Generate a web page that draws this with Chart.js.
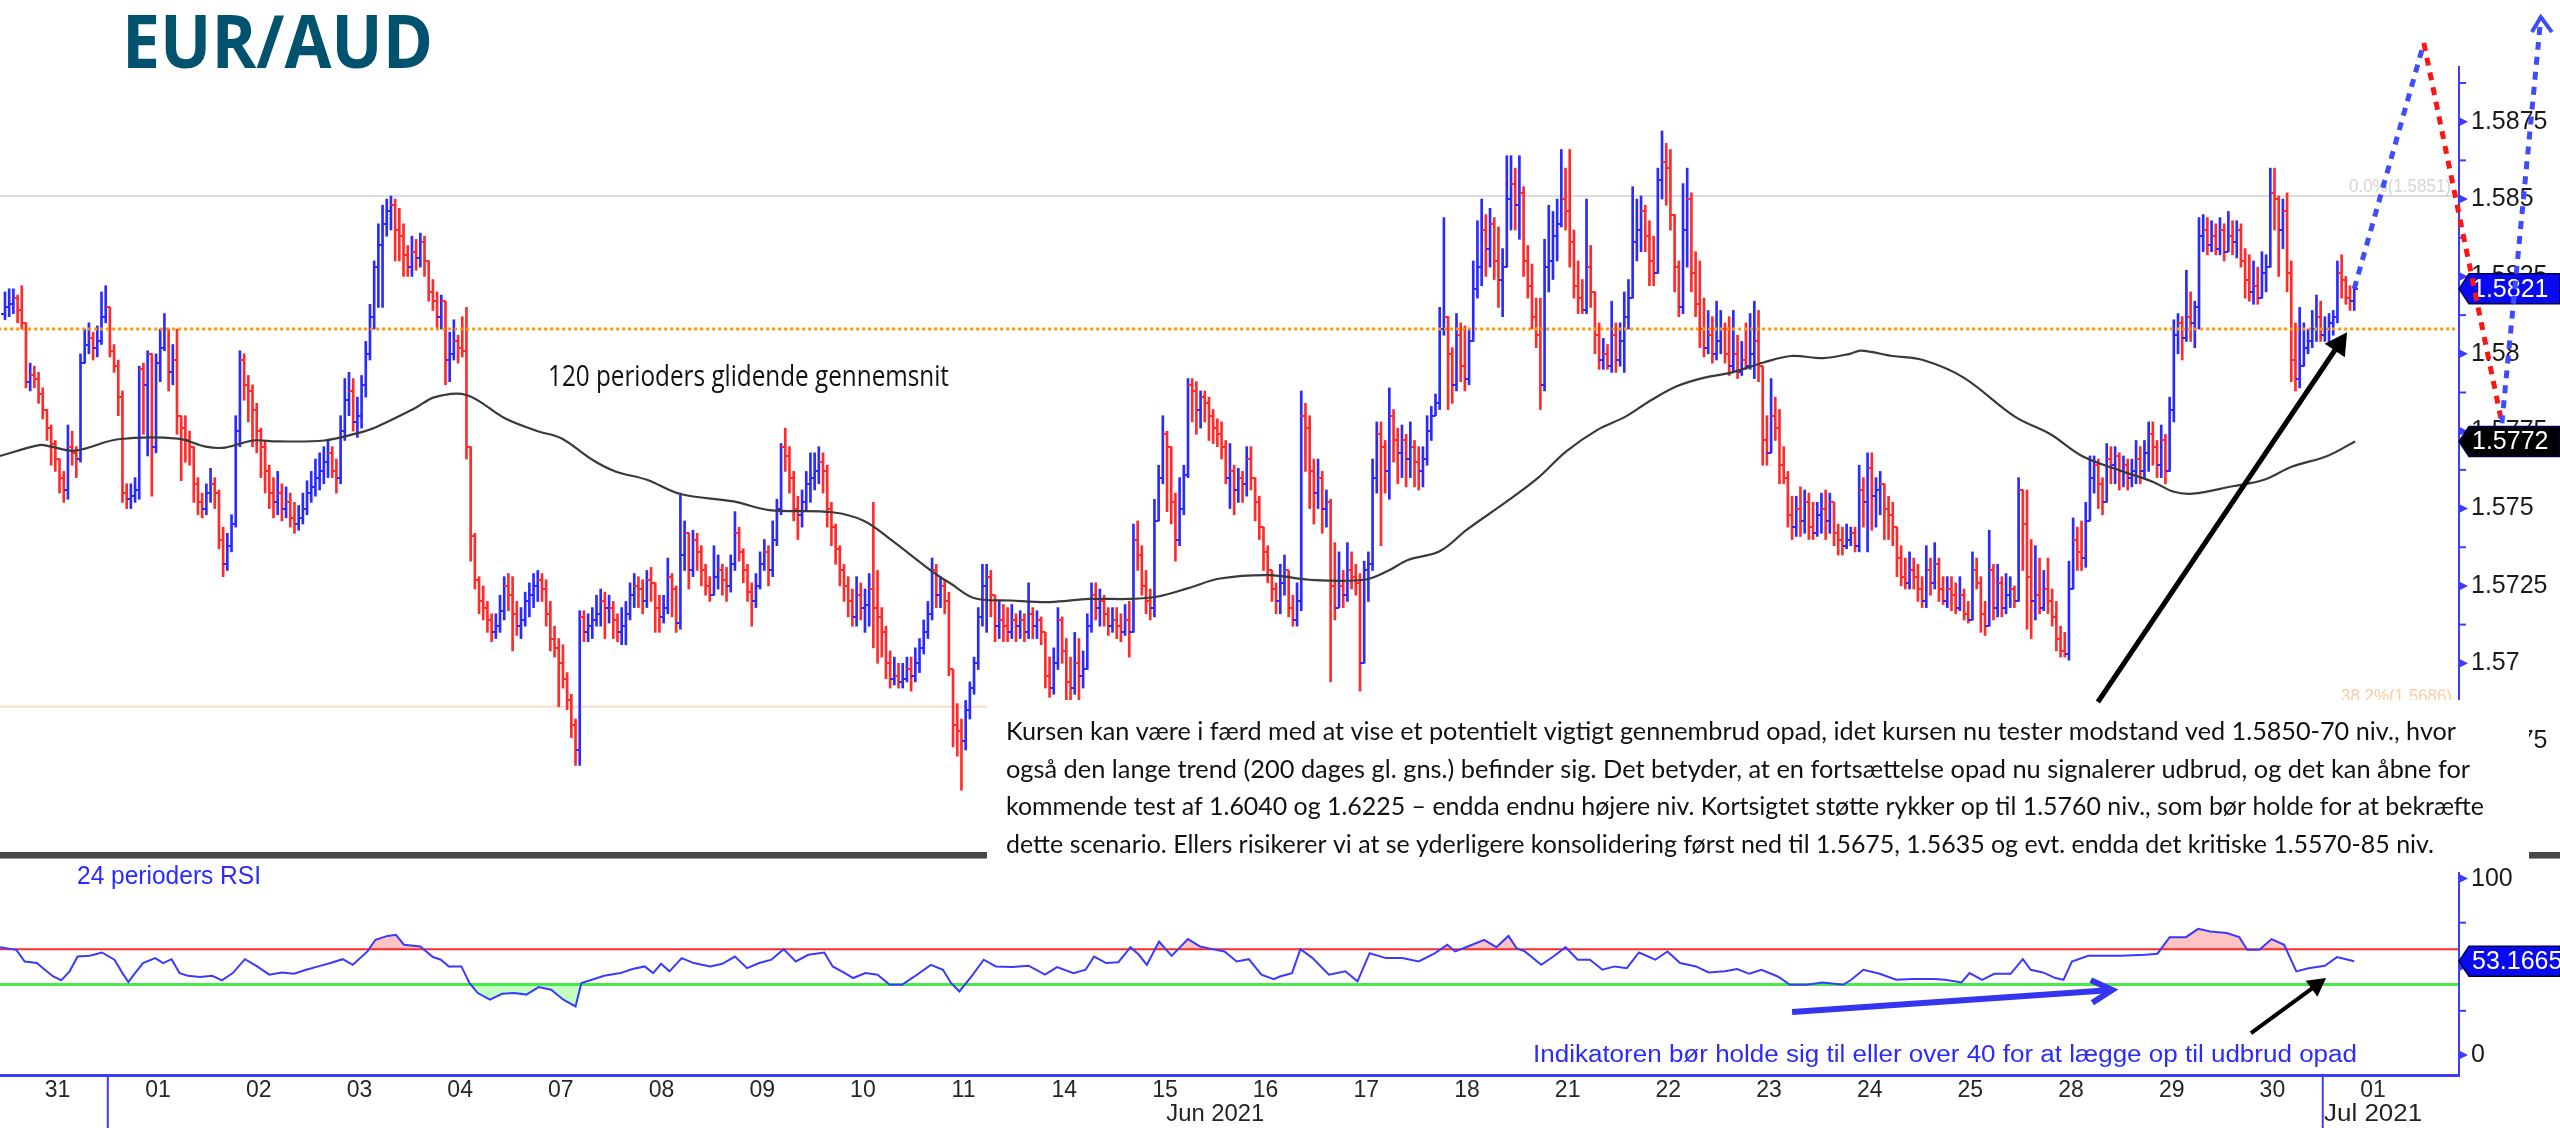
<!DOCTYPE html>
<html>
<head>
<meta charset="utf-8">
<title>EUR/AUD</title>
<script src="https://cdn.jsdelivr.net/npm/chart.js@4.4.1/dist/chart.umd.min.js"></script>
<style>
  html, body { margin: 0; padding: 0; background: #fff; }
  #wrap { position: relative; width: 2560px; height: 1128px; }
  canvas { display: block; }
</style>
</head>
<body>
<div id="wrap"><canvas id="chart" width="2560" height="1128"></canvas></div>
<script>
// EUR/AUD hourly bars, 31 May - 1 Jul 2021.
// Prices are kept in pips above BASE, time in hours counted from 31 May 00:00
// (weekends skipped, 24 bars per trading day).
const BASE = 1.5700;
const PIP = 0.0001;
const FIRST_HOUR = -1;

const opens = [
  113,
  115,116,118,114,110,91,93,92,87,82,76,71,66,60,56,70,68,66,97,103,105,102,104,112,       // 31 May
  115,101,96,86,55,53,54,56,95,90,100,70,97,102,108,94,98,80,76,72,70,58,52,50,            // 01 Jun
  55,58,55,40,32,38,45,75,98,90,88,82,75,70,62,55,52,55,50,52,47,45,47,50,                 // 02
  55,57,60,62,65,68,62,60,75,85,88,78,80,90,100,112,128,135,142,146,148,140,138,132,       // 03
  128,133,131,136,130,120,117,112,117,98,100,104,102,101,70,41,27,20,18,14,10,12,17,25,    // 04
  22,16,12,14,20,22,25,27,24,16,8,5,0,-5,-12,-20,-28,15,10,12,14,16,20,18,                 // 07
  18,14,10,12,16,22,25,24,20,27,26,18,15,18,28,24,13,35,42,30,40,36,30,25,                 // 08
  22,28,30,27,25,32,42,36,30,23,20,25,32,36,30,40,50,70,67,60,50,48,52,58,                 // 09
  60,62,65,62,50,44,37,30,25,20,15,22,18,19,24,18,15,10,0,-5,-4,-6,-5,-2,                  // 10
  -4,0,5,10,16,30,22,25,20,-2,-20,-22,-25,-15,-8,0,15,25,28,22,12,14,12,10,                // 11
  14,12,14,10,16,12,14,10,-4,-8,0,14,4,-6,-8,0,-4,-2,12,22,18,20,16,12,                    // 14
  14,12,10,14,10,40,35,25,20,18,46,60,74,70,52,40,50,61,90,88,82,86,84,80,                 // 15
  76,74,70,60,62,56,60,58,66,60,52,44,36,30,24,20,26,30,18,14,20,80,76,62,                 // 16
  55,60,50,52,25,18,25,22,30,28,26,0,30,32,60,74,70,62,80,72,68,72,66,70,                  // 17
  65,62,66,75,80,84,108,112,100,90,106,96,92,104,121,128,140,134,142,130,124,128,150,155,  // 18
  148,152,130,122,112,106,90,128,130,138,142,150,146,136,122,118,114,128,120,106,98,100,96,106, // 21
  98,104,112,118,136,140,146,138,130,126,156,162,160,145,128,115,140,150,126,116,108,102,106,100, // 22
  104,108,100,96,100,94,98,96,100,104,96,72,68,80,76,64,60,48,44,50,46,52,44,42,           // 23
  48,50,46,52,42,40,38,40,42,38,56,52,63,54,56,58,50,48,44,34,28,26,30,28,                 // 24
  24,20,30,26,32,24,20,24,22,18,22,16,14,30,26,16,12,30,18,26,18,22,24,20,                 // 25
  56,45,28,20,22,18,24,20,15,8,4,3,24,40,36,34,46,60,64,58,52,66,64,67,                    // 28
  62,64,60,62,66,62,68,74,70,64,72,62,82,106,110,105,112,110,115,138,140,135,138,134,      // 29
  140,133,138,136,140,130,124,120,122,118,126,128,152,150,140,146,126,98,92,96,102,104,108,112, // 30
  106,108,110,112,126,124,118,117                                                          // 01 Jul
];
const highs = [
  120,
  121,121,119,122,110,97,96,94,89,82,77,72,66,62,77,75,70,100,108,110,107,109,120,122,
  115,103,98,88,58,58,60,96,97,101,100,100,108,113,108,103,108,80,80,75,70,60,55,58,
  63,60,56,44,42,48,80,101,100,93,90,84,76,72,64,60,62,58,57,55,52,51,55,59,
  62,66,68,70,72,70,66,80,92,94,92,86,93,104,116,130,142,148,150,151,150,147,142,135,
  138,137,139,138,130,124,120,119,117,107,111,106,112,115,70,42,28,25,20,16,16,22,28,29,
  28,20,18,23,26,29,30,29,27,20,12,8,6,-3,-10,-18,17,17,16,18,22,24,23,22,
  20,16,18,20,26,29,28,27,30,31,26,22,22,34,29,25,55,46,42,43,42,38,32,28,
  38,35,32,31,35,49,44,37,32,26,29,36,40,38,46,53,71,76,70,62,54,56,62,68,
  68,70,68,64,52,45,38,32,28,24,28,26,24,29,52,30,18,12,4,2,0,0,2,2,
  5,8,14,20,34,32,28,27,23,-2,-13,-18,-12,-6,2,18,32,32,30,21,20,19,18,19,
  16,17,16,26,18,17,15,10,2,5,18,15,8,2,10,8,4,16,26,26,24,22,18,18,
  18,16,19,20,45,46,38,30,24,53,64,80,75,60,55,60,64,92,92,91,88,88,86,82,
  79,78,72,71,64,63,62,70,70,58,54,43,38,28,26,32,35,30,22,26,88,84,80,66,
  66,62,56,53,39,36,30,39,36,32,29,33,36,66,78,78,72,89,82,76,77,74,78,72,
  70,70,80,83,87,115,144,112,102,113,110,109,108,130,143,150,145,147,144,141,134,164,164,160,
  164,154,135,129,118,118,137,148,146,150,166,160,166,140,130,124,150,135,120,110,105,103,117,110,
  110,120,124,154,150,151,148,143,138,160,172,168,166,140,130,155,160,152,133,130,118,114,112,117,
  114,110,112,114,106,104,110,113,117,114,94,80,92,86,82,70,62,54,54,57,56,55,52,52,
  55,56,55,52,45,44,45,44,44,64,60,68,68,60,62,58,54,52,44,38,34,36,34,32,
  28,38,34,39,34,28,28,28,26,28,24,20,36,34,28,20,43,32,32,28,29,28,25,60,
  56,56,40,38,34,30,34,24,20,12,10,33,47,44,46,52,67,67,66,60,71,70,70,68,
  67,66,66,72,70,72,78,78,72,77,74,86,111,113,112,127,120,117,144,145,144,143,142,144,
  142,146,143,143,142,134,132,130,128,133,132,160,160,151,150,152,130,110,115,110,108,114,119,117,
  112,113,114,130,132,125,122,122
];
const lows = [
  111,
  112,113,110,108,89,88,89,84,79,72,64,62,55,52,53,64,60,65,97,100,98,99,103,110,
  99,94,80,52,50,50,52,53,74,67,54,68,91,101,88,90,74,59,65,64,52,48,47,48,
  52,50,37,28,30,36,44,70,85,78,70,68,60,55,50,47,48,46,47,44,42,43,45,48,
  52,54,56,58,60,60,55,58,72,80,75,73,76,86,98,108,115,115,138,140,130,130,125,125,
  125,127,128,125,117,114,108,108,90,91,98,97,99,66,33,24,16,14,10,7,8,10,14,17,
  4,9,8,12,15,18,20,20,12,4,2,-14,-8,-15,-24,-33,-33,7,7,8,12,12,8,13,
  8,7,6,6,14,18,18,16,18,20,10,10,13,16,15,10,11,30,24,28,30,25,22,20,
  22,24,22,20,23,30,33,26,20,12,18,24,30,25,28,38,48,62,55,46,40,44,49,52,
  56,58,55,44,38,32,25,20,15,12,12,14,10,12,5,0,2,-5,-8,-7,-8,-8,-6,-9,
  -6,-3,3,8,14,18,18,16,-4,-27,-30,-41,-28,-18,-10,-2,12,10,15,7,8,7,7,8,
  7,8,7,8,8,8,6,-8,-11,-10,-2,0,-12,-13,-10,-12,-8,-2,10,14,12,12,9,10,
  8,7,9,2,10,30,22,16,14,15,46,58,49,45,33,38,48,60,78,74,76,78,72,71,
  70,66,58,50,48,52,52,54,56,46,40,30,26,20,16,16,22,15,12,12,17,62,50,45,
  50,42,44,-6,14,19,18,20,24,22,-9,0,20,30,55,38,55,53,65,58,60,57,60,57,
  56,57,64,72,80,82,106,82,84,88,91,88,90,104,118,122,125,128,124,115,112,128,140,140,
  137,125,118,108,102,82,88,120,124,130,141,140,128,118,113,113,113,115,100,95,95,95,94,94,
  96,94,108,118,130,133,133,122,122,126,150,148,140,120,112,113,128,120,112,102,99,100,97,98,
  100,97,93,94,92,93,95,95,92,91,64,64,68,72,58,58,44,40,41,41,42,40,40,41,
  42,40,42,38,35,35,37,38,36,36,44,36,43,44,48,40,40,38,28,25,24,24,24,20,
  18,18,22,24,20,19,18,17,16,17,14,13,14,24,10,9,12,14,15,15,16,18,18,20,
  30,11,8,14,16,17,16,12,4,2,2,1,24,30,30,31,46,55,50,48,52,58,58,56,
  57,56,57,58,58,60,62,64,60,60,58,62,78,100,98,104,104,102,108,133,132,133,132,132,
  130,133,132,131,128,118,117,116,116,119,120,128,140,125,134,120,91,88,89,98,100,102,104,104,
  104,103,106,110,118,116,114,114
];
const closes = [
  115,
  116,118,114,110,91,93,92,87,82,76,71,66,60,56,70,68,66,97,103,105,102,104,112,115,
  101,96,86,55,53,54,56,95,90,100,70,97,102,108,94,98,80,76,72,70,58,52,50,55,
  58,55,40,32,38,45,75,98,90,88,82,75,70,62,55,52,55,50,52,47,45,47,50,55,
  57,60,62,65,68,62,60,75,85,88,78,80,90,100,112,128,135,142,146,148,140,138,132,128,
  133,131,136,130,120,117,112,117,98,100,104,102,101,70,41,27,20,18,14,10,12,17,25,22,
  16,12,14,20,22,25,27,24,16,8,5,0,-5,-12,-20,-28,15,10,12,14,16,20,18,18,
  14,10,12,16,22,25,24,20,27,26,18,15,18,28,24,13,35,42,30,40,36,30,25,22,
  28,30,27,25,32,42,36,30,23,20,25,32,36,30,40,50,70,67,60,50,48,52,58,60,
  62,65,62,50,44,37,30,25,20,15,22,18,19,24,18,15,10,0,-5,-4,-6,-5,-2,-4,
  0,5,10,16,30,22,25,20,-2,-20,-22,-25,-15,-8,0,15,25,28,22,12,14,12,10,14,
  12,14,10,16,12,14,10,-4,-8,0,14,4,-6,-8,0,-4,-2,12,22,18,20,16,12,14,
  12,10,14,10,40,35,25,20,18,46,60,74,70,52,40,50,61,90,88,82,86,84,80,76,
  74,70,60,62,56,60,58,66,60,52,44,36,30,24,20,26,30,18,14,20,80,76,62,55,
  60,50,52,25,18,25,22,30,28,26,0,30,32,60,74,70,62,80,72,68,72,66,70,65,
  62,66,75,80,84,108,112,100,90,106,96,92,104,121,128,140,134,142,130,124,128,150,155,148,
  152,130,122,112,106,90,128,130,138,142,150,146,136,122,118,114,128,120,106,98,100,96,106,98,
  104,112,118,136,140,146,138,130,126,156,162,160,145,128,115,140,150,126,116,108,102,106,100,104,
  108,100,96,100,94,98,96,100,104,96,72,68,80,76,64,60,48,44,50,46,52,44,42,48,
  50,46,52,42,40,38,40,42,38,56,52,63,54,56,58,50,48,44,34,28,26,30,28,24,
  20,30,26,32,24,20,24,22,18,22,16,14,30,26,16,12,30,18,26,18,22,24,20,56,
  45,28,20,22,18,24,20,15,8,4,3,24,40,36,34,46,60,64,58,52,66,64,67,62,
  64,60,62,66,62,68,74,70,64,72,62,82,106,110,105,112,110,115,138,140,135,138,134,140,
  133,138,136,140,130,124,120,122,118,126,128,152,150,140,146,126,98,92,96,102,104,108,112,106,
  108,110,112,126,124,118,117,121
];

// 120 period moving average (pips above BASE), sampled along the drawn line
const maHours = [
  -2.2, 7.2, 10, 15.7, 26, 40.2, 46.8, 51.5, 58.1, 63.8,
  75.1, 82.6, 87.4, 96.8, 101.5, 109, 118.4, 126, 131.6, 139.2,
  144.5, 152, 160, 172.7, 181.2, 196.2, 203.8, 210.4, 219.8, 224.5,
  230.2, 238.7, 248.1, 257.5, 266.9, 273.5, 281.1, 288.6, 300.4, 309.9,
  323, 328.7, 333.4, 341, 347.5, 357, 364.5, 371.1, 378.7, 385.3,
  390.9, 397.5, 404.1, 410.7, 418.2, 424.8, 432.4, 438.8, 441.4, 448.9,
  456.4, 465.9, 478.1, 486.6, 494.1, 503.6, 511.1, 515.8, 520.5, 530,
  537.5, 544.1, 552.6, 559.2
];
const maPips = [
  67, 70.5, 70, 68.7, 72.4, 72.6, 70, 69.7, 72, 71.7,
  72, 74.2, 76.3, 82.5, 86, 86.7, 79, 75, 72.7, 65.6,
  62, 59.3, 54.7, 52.3, 49.5, 48.8, 46, 39.7, 29.9, 25.7,
  21, 20.3, 19.8, 20.8, 20.8, 21.5, 24.3, 27.4, 28.5, 27,
  27, 29.9, 33.4, 36.2, 43.2, 52.3, 60, 68.4, 75.5, 79.7,
  84.6, 89.5, 92.3, 94, 97.2, 99.3, 98.6, 100, 101, 99.3,
  97.9, 92.3, 79.7, 74, 67, 62.1, 58.6, 55.5, 54.8, 57.2,
  59.3, 63.5, 67, 71.7
];

// 24 period RSI
const rsiHours = [
  -2.2, 1.7, 3.7, 6.6, 8.5, 10.5, 12.4, 14.4, 16.3, 19.2,
  22.1, 25.1, 27, 28.4, 30, 31.9, 34.8, 36.7, 38.7, 40.6,
  42.6, 45.5, 48.4, 50.7, 53.3, 56.2, 59.1, 62, 65, 67.9,
  70.8, 73.7, 76.6, 79.5, 81.9, 85.4, 87.3, 90.2, 92.2, 94.1,
  98, 101, 102.9, 104.8, 107.8, 109.7, 111.7, 114.6, 117.5, 120.4,
  123.3, 126.2, 129.2, 132.1, 135, 136.4, 138.9, 141.8, 145.7, 148.6,
  151.5, 153.5, 155.4, 157.4, 160.3, 163.2, 167.1, 170, 173, 175.9,
  178.8, 181.7, 184.6, 187.5, 190.5, 194.3, 196.3, 199.2, 201.2, 204.1,
  207, 209.9, 212.8, 215.8, 219.7, 222.6, 224.5, 226.5, 229.4, 232.3,
  235.2, 239.1, 243, 246.9, 249.8, 253.7, 256.6, 258.6, 261.5, 264.4,
  267.3, 269.3, 271.2, 274.1, 277.1, 281, 283.9, 286.8, 289.7, 292.6,
  295.5, 298.5, 301.4, 302.9, 305.8, 307.8, 310.7, 314.6, 318.5, 321.4,
  324.3, 328.2, 332.1, 336, 339.9, 342.8, 344.7, 347.7, 351.6, 354.5,
  357.4, 359.3, 361.3, 365.2, 368.1, 371, 373.9, 376.8, 379.8, 382.7,
  385.6, 388.5, 392.4, 395.3, 398.3, 402.1, 405.1, 409, 411.9, 414.8,
  417.7, 421.6, 424.5, 428.4, 432.3, 437.2, 439.1, 442, 445.9, 449.8,
  453.7, 458.6, 461.5, 465.4, 467.3, 470.3, 473.2, 477.1, 480, 481.9,
  484.8, 487.8, 489.7, 491.7, 495.6, 499.4, 503.3, 509.2, 512.1, 515,
  518.9, 521.8, 524.7, 528.6, 531.6, 533.5, 536.4, 539.3, 542.3, 545.2,
  548.1, 552, 554.9, 559
];
const rsiValues = [
  61.1, 59.6, 53.0, 52.1, 48.3, 44.5, 42.3, 47.4, 55.8, 56.2,
  58.1, 54.0, 46.4, 41.3, 46.4, 52.1, 54.9, 52.1, 54.3, 46.4,
  44.9, 44.2, 44.9, 42.3, 46.4, 54.3, 50.2, 45.5, 46.8, 46.0,
  48.3, 50.2, 52.1, 54.3, 51.1, 58.7, 65.3, 67.5, 68.1, 62.5,
  61.5, 55.5, 54.0, 50.2, 50.2, 40.8, 35.1, 31.3, 34.7, 35.1,
  34.2, 38.5, 37.0, 31.3, 27.5, 40.8, 42.6, 44.9, 46.4, 48.7,
  50.2, 46.4, 51.7, 47.4, 54.9, 52.1, 50.2, 51.7, 55.8, 49.2,
  52.1, 54.0, 60.0, 53.0, 56.8, 58.1, 50.2, 46.4, 43.6, 46.4,
  45.5, 39.8, 39.8, 44.5, 51.1, 48.3, 40.8, 36.0, 44.5, 54.0,
  50.2, 49.8, 50.6, 45.5, 49.8, 46.4, 48.3, 55.8, 52.1, 52.6,
  61.1, 56.8, 51.1, 64.3, 56.2, 65.7, 61.5, 60.0, 58.7, 53.0,
  54.3, 45.5, 43.0, 44.5, 46.4, 60.0, 54.9, 45.5, 47.4, 41.7,
  57.7, 54.9, 54.9, 53.0, 57.7, 62.5, 58.7, 61.5, 65.3, 61.1,
  67.5, 60.6, 58.7, 51.1, 55.8, 61.1, 54.0, 54.0, 48.3, 50.2,
  49.2, 58.1, 54.0, 58.7, 52.1, 50.2, 46.8, 47.4, 48.7, 46.0,
  48.3, 44.5, 39.8, 39.8, 41.1, 39.8, 42.6, 48.3, 46.0, 42.6,
  43.0, 43.0, 42.6, 41.1, 46.4, 42.6, 46.0, 46.0, 54.3, 48.3,
  46.8, 43.6, 42.6, 53.0, 56.2, 56.2, 56.2, 56.8, 57.4, 66.8,
  66.8, 71.5, 70.0, 69.1, 66.8, 59.6, 59.6, 65.7, 62.5, 47.4,
  49.2, 50.6, 55.5, 53.1665
];

const dayLabels = ['31','01','02','03','04','07','08','09','10','11','14','15','16','17','18','21','22','23','24','25','28','29','30','01'];
const monthLabels = ['Jun 2021', 'Jul 2021'];
const monthStartHours = [24, 552];
const priceTicks = [1.5675, 1.57, 1.5725, 1.575, 1.5775, 1.58, 1.5825, 1.585, 1.5875];
const priceTickLabels = ['1.5675','1.57','1.5725','1.575','1.5775','1.58','1.5825','1.585','1.5875'];
const rsiTicks = [0, 50, 100];
const rsiTickLabels = ['0', '50', '100'];
const supportLevel = 1.5808;
const fibLevels = [1.5851, 1.5686];
const fibLabels = ['0.0%(1.5851)', '38.2%(1.5686)'];
const rsiUpper = 60;
const rsiLower = 40;

// drawn scenario: [hour, price] and [hour, rsi]
const scenarioUp = [[559.5, 1.5821], [576.1, 1.59004]];
const scenarioDown = [[576.1, 1.59004], [594.7, 1.57776]];
const scenarioUp2 = [[594.7, 1.57776], [604.0, 1.59088]];
const priceArrow = [[498.4, 1.56875], [557.8, 1.58070]];
const rsiTrendArrow = [[425.5, 24.3], [501.8, 36.8]];
const rsiArrow = [[534.9, 12.4], [552.8, 43.6]];

const noteLines = [
  'Kursen kan være i færd med at vise et potentielt vigtigt gennembrud opad, idet kursen nu tester modstand ved 1.5850-70 niv., hvor',
  'også den lange trend (200 dages gl. gns.) befinder sig. Det betyder, at en fortsættelse opad nu signalerer udbrud, og det kan åbne for',
  'kommende test af 1.6040 og 1.6225 – endda endnu højere niv. Kortsigtet støtte rykker op til 1.5760 niv., som bør holde for at bekræfte',
  'dette scenario. Ellers risikerer vi at se yderligere konsolidering først ned til 1.5675, 1.5635 og evt. endda det kritiske 1.5570-85 niv.'
];

const price = p => BASE + p * PIP;
const BLUE = '#2a2aff';
const RED = '#ff2a2a';

const bars = closes.map((c, k) => {
  const o = opens[k];
  return {
    x: FIRST_HOUR + k + 0.5,
    o: price(o),
    c: price(c),
    hi: price(Math.max(highs[k], o, c)),
    lo: price(Math.min(lows[k], o, c)),
    up: c >= o
  };
});

function tickImage(color, side) {
  const cv = document.createElement('canvas');
  cv.width = 8; cv.height = 2;
  const g = cv.getContext('2d');
  g.fillStyle = color;
  g.fillRect(side === 'left' ? 0 : 4, 0, 4, 2);
  return cv;
}
const openUp = tickImage(BLUE, 'left'), openDown = tickImage(RED, 'left');
const closeUp = tickImage(BLUE, 'right'), closeDown = tickImage(RED, 'right');

const maData = maHours.map((h, i) => ({ x: h + 0.5, y: price(maPips[i]) }));
const rsiData = rsiHours.map((h, i) => ({ x: h + 0.5, y: rsiValues[i] }));
const span = (y) => [{ x: -5, y: y }, { x: 600, y: y }];

function fitText(c, text, x, y, width, font, color) {
  c.font = font;
  c.fillStyle = color;
  c.textAlign = 'left';
  c.textBaseline = 'alphabetic';
  const w = c.measureText(text).width;
  c.save();
  c.translate(x, y);
  c.scale(width / w, 1);
  c.fillText(text, 0, 0);
  c.restore();
}

function arrow(c, x1, y1, x2, y2, width, color, head, filled) {
  const a = Math.atan2(y2 - y1, x2 - x1);
  const ca = Math.cos(a), sa = Math.sin(a);
  const w = head * 0.55;
  c.strokeStyle = color;
  c.fillStyle = color;
  c.lineWidth = width;
  c.lineCap = 'butt';
  c.setLineDash([]);
  c.beginPath();
  c.moveTo(x1, y1);
  if (filled) c.lineTo(x2 - ca * head * 0.8, y2 - sa * head * 0.8);
  else c.lineTo(x2, y2);
  c.stroke();
  const p1 = [x2 - ca * head + sa * w, y2 - sa * head - ca * w];
  const p2 = [x2 - ca * head - sa * w, y2 - sa * head + ca * w];
  c.beginPath();
  if (filled) {
    c.moveTo(x2, y2); c.lineTo(p1[0], p1[1]); c.lineTo(p2[0], p2[1]); c.closePath(); c.fill();
  } else {
    c.lineCap = 'square';
    c.moveTo(p1[0], p1[1]); c.lineTo(x2, y2); c.lineTo(p2[0], p2[1]); c.stroke();
  }
}

function valueBox(c, yMid, text, fill, left) {
  const h = 30;
  c.fillStyle = fill;
  c.beginPath();
  c.moveTo(left, yMid);
  c.lineTo(left + 10, yMid - h / 2);
  c.lineTo(2560, yMid - h / 2);
  c.lineTo(2560, yMid + h / 2);
  c.lineTo(left + 10, yMid + h / 2);
  c.closePath();
  c.fill();
  c.strokeStyle = '#00004a';
  c.lineWidth = 1.5;
  c.stroke();
  c.fillStyle = '#ffffff';
  c.font = '25px "Liberation Sans", Arial, sans-serif';
  c.textAlign = 'left';
  c.textBaseline = 'middle';
  c.fillText(text, left + 13, yMid + 1);
}

const overlay = {
  id: 'overlay',
  afterDraw(chart) {
    const c = chart.ctx;
    const sx = chart.scales.x, sy = chart.scales.y, sr = chart.scales.yRsi;
    const X = v => sx.getPixelForValue(v);
    const Y = p => sy.getPixelForValue(p);
    const R = v => sr.getPixelForValue(v);
    const area = chart.chartArea;
    const ax = area.right;
    const tickFont = '25px "Liberation Sans", Arial, sans-serif';
    c.save();

    // fibonacci labels
    fitText(c, fibLabels[0], 2349, Y(fibLevels[0]) - 4, 102, '19px "Liberation Sans", Arial', '#d4d4d4');
    fitText(c, fibLabels[1], 2341, Y(fibLevels[1]) - 5, 111, '19px "Liberation Sans", Arial', '#ffcca0');

    // panel separator
    c.fillStyle = '#484848';
    c.fillRect(0, 852, 2560, 7);
    c.fillStyle = '#9a9a9a';
    c.fillRect(0, 858, 2560, 1);

    // right axis lines and tick marks
    c.strokeStyle = '#3c3cff';
    c.fillStyle = '#3c3cff';
    c.lineWidth = 2;
    c.beginPath();
    c.moveTo(ax, Y(1.5893)); c.lineTo(ax, 852);
    c.moveTo(ax, 872); c.lineTo(ax, area.bottom);
    c.stroke();
    const tri = yy => { c.beginPath(); c.moveTo(ax, yy - 4.5); c.lineTo(ax + 9, yy); c.lineTo(ax, yy + 4.5); c.closePath(); c.fill(); };
    const minor = yy => { c.beginPath(); c.moveTo(ax, yy); c.lineTo(ax + 7, yy); c.stroke(); };
    priceTicks.forEach(t => { tri(Y(t)); minor(Y(t + 0.00125)); });
    minor(Y(priceTicks[0] - 0.00125));
    rsiTicks.forEach(t => tri(R(t)));
    [25, 75].forEach(t => minor(R(t)));
    c.fillStyle = '#1a1a1a';
    c.font = tickFont;
    c.textAlign = 'left';
    c.textBaseline = 'middle';
    rsiTicks.forEach((t, i) => c.fillText(rsiTickLabels[i], ax + 12, R(t)));

    // comment box
    c.fillStyle = '#ffffff';
    c.fillRect(987, 700, 1542, 166);
    const noteBase = [740, 778, 815, 853];
    const noteWidth = [1450, 1464, 1478, 1428];
    noteLines.forEach((t, i) => fitText(c, t, 1006, noteBase[i], noteWidth[i], '25px Lato, "Open Sans", sans-serif', '#111111'));

    // arrows
    arrow(c, X(priceArrow[0][0]), Y(priceArrow[0][1]), X(priceArrow[1][0]), Y(priceArrow[1][1]), 5, '#000000', 22, true);
    arrow(c, X(rsiTrendArrow[0][0]), R(rsiTrendArrow[0][1]), X(rsiTrendArrow[1][0]), R(rsiTrendArrow[1][1]), 6, '#3535f0', 18, false);
    arrow(c, X(rsiArrow[0][0]), R(rsiArrow[0][1]), X(rsiArrow[1][0]), R(rsiArrow[1][1]), 4, '#000000', 18, true);

    // last values
    const lastClose = bars[bars.length - 1].c;
    const lastMa = maData[maData.length - 1].y;
    const lastRsi = rsiValues[rsiValues.length - 1];
    valueBox(c, Y(lastClose), lastClose.toFixed(4), '#0a0af0', ax);
    valueBox(c, Y(lastMa), lastMa.toFixed(4), '#000000', ax);
    valueBox(c, R(lastRsi), lastRsi.toFixed(4), '#0a0af0', ax);

    // scenario lines
    c.lineWidth = 5;
    c.lineCap = 'butt';
    c.setLineDash([8, 7]);
    [[scenarioUp, '#3d4cff'], [scenarioDown, '#ff1414'], [scenarioUp2, '#3d4cff']].forEach(([seg, col]) => {
      c.strokeStyle = col;
      c.beginPath();
      c.moveTo(X(seg[0][0]), Y(seg[0][1]));
      c.lineTo(X(seg[1][0]), Y(seg[1][1]));
      c.stroke();
    });
    c.setLineDash([]);
    const tx = X(scenarioUp2[1][0]), ty = Y(scenarioUp2[1][1]);
    c.strokeStyle = '#3d4cff';
    c.lineWidth = 4;
    c.beginPath();
    c.moveTo(tx - 9, ty + 15); c.lineTo(tx, ty); c.lineTo(tx + 11, ty + 15);
    c.stroke();

    // texts
    fitText(c, '120 perioders glidende gennemsnit', 548, 386, 401, '30px "Open Sans", sans-serif', '#111111');
    fitText(c, '24 perioders RSI', 77, 884, 184, '25px "Liberation Sans Narrow", "Liberation Sans", sans-serif', '#2b2bff');
    fitText(c, 'Indikatoren bør holde sig til eller over 40 for at lægge op til udbrud opad', 1533, 1062, 824, '23px "Liberation Sans Narrow", "Liberation Sans", sans-serif', '#2b2bff');
    fitText(c, 'EUR/AUD', 122, 68, 311, 'bold 74px "Open Sans", sans-serif', '#00526f');

    // month separators and month labels
    c.strokeStyle = '#3c3cff';
    c.lineWidth = 2;
    monthStartHours.forEach(h => {
      c.beginPath(); c.moveTo(X(h), area.bottom); c.lineTo(X(h), 1128); c.stroke();
    });
    const monthCenters = [(monthStartHours[0] + monthStartHours[1]) / 2, monthStartHours[1] + 12];
    monthLabels.forEach((t, i) => fitText(c, t, X(monthCenters[i]) - 49, 1121, 98, '23px "Liberation Sans", Arial', '#222222'));

    c.restore();
  }
};

new Chart(document.getElementById('chart'), {
  type: 'bar',
  data: {
    datasets: [
      { type: 'line', data: rsiData, xAxisID: 'x', yAxisID: 'yRsi', borderColor: '#3a3aff', borderWidth: 2,
        pointRadius: 0, tension: 0, fill: false, order: 1 },
      { type: 'line', data: span(rsiUpper), xAxisID: 'x', yAxisID: 'yRsi', borderColor: '#ff2b2b', borderWidth: 2,
        pointRadius: 0, fill: false, order: 2 },
      { type: 'line', data: span(rsiLower), xAxisID: 'x', yAxisID: 'yRsi', borderColor: '#4be84b', borderWidth: 3,
        pointRadius: 0, fill: false, order: 2 },
      { type: 'line', data: rsiData, xAxisID: 'x', yAxisID: 'yRsi', borderColor: 'rgba(0,0,0,0)', borderWidth: 0,
        pointRadius: 0, tension: 0, order: 3,
        fill: { target: { value: rsiUpper }, above: 'rgba(255,185,185,0.85)', below: 'rgba(0,0,0,0)' } },
      { type: 'line', data: rsiData, xAxisID: 'x', yAxisID: 'yRsi', borderColor: 'rgba(0,0,0,0)', borderWidth: 0,
        pointRadius: 0, tension: 0, order: 3,
        fill: { target: { value: rsiLower }, above: 'rgba(0,0,0,0)', below: 'rgba(185,255,185,0.85)' } },
      { type: 'line', data: maData, xAxisID: 'x', yAxisID: 'y', borderColor: '#3a3a3a', borderWidth: 2.2,
        pointRadius: 0, tension: 0.35, fill: false, order: 1 },
      { type: 'line', data: span(supportLevel), xAxisID: 'x', yAxisID: 'y', borderColor: '#ff9a00', borderWidth: 3,
        borderDash: [3, 3], pointRadius: 0, fill: false, order: 2 },
      { type: 'scatter', data: bars.map(b => ({ x: b.x, y: b.o })), xAxisID: 'x', yAxisID: 'y',
        pointStyle: ctx => bars[ctx.dataIndex].up ? openUp : openDown, pointRadius: 1, order: 4 },
      { type: 'scatter', data: bars.map(b => ({ x: b.x, y: b.c })), xAxisID: 'x', yAxisID: 'y',
        pointStyle: ctx => bars[ctx.dataIndex].up ? closeUp : closeDown, pointRadius: 1, order: 4 },
      { type: 'bar', data: bars.map(b => ({ x: b.x, y: [b.lo, b.hi] })), xAxisID: 'x', yAxisID: 'y',
        backgroundColor: ctx => bars[ctx.dataIndex].up ? BLUE : RED, borderWidth: 0,
        barThickness: 2, grouped: false, order: 5 },
      { type: 'line', data: span(fibLevels[0]), xAxisID: 'x', yAxisID: 'y', borderColor: '#dcdcdc', borderWidth: 2,
        pointRadius: 0, fill: false, order: 6 },
      { type: 'line', data: span(fibLevels[1]), xAxisID: 'x', yAxisID: 'y', borderColor: '#ffdcc4', borderWidth: 2,
        pointRadius: 0, fill: false, order: 6 }
    ]
  },
  options: {
    responsive: false,
    devicePixelRatio: 1,
    animation: false,
    events: [],
    layout: { padding: 0, autoPadding: false },
    plugins: { legend: { display: false }, tooltip: { enabled: false } },
    scales: {
      x: {
        type: 'linear', position: 'bottom', min: -1.6925, max: 584.48, offset: false,
        afterFit: s => { s.height = 53; s.paddingLeft = 0; s.paddingRight = 0; },
        afterBuildTicks: s => { s.ticks = dayLabels.map((_, k) => ({ value: 24 * k + 12 })); },
        ticks: {
          autoSkip: false, maxRotation: 0, minRotation: 0, padding: 2, color: '#262626',
          font: { family: '"Liberation Sans", Arial, sans-serif', size: 23 },
          callback: (v, i) => dayLabels[i]
        },
        grid: { display: false, drawTicks: false },
        border: { display: true, color: '#3c3cff', width: 3 }
      },
      y: {
        type: 'linear', position: 'right', min: 1.556698, max: 1.591432,
        afterFit: s => { s.width = 101; s.paddingTop = 0; s.paddingBottom = 0; },
        afterBuildTicks: s => { s.ticks = priceTicks.map(v => ({ value: v })); },
        ticks: {
          autoSkip: false, padding: 12, color: '#1a1a1a',
          font: { family: '"Liberation Sans", Arial, sans-serif', size: 25 },
          callback: (v, i) => priceTickLabels[i]
        },
        grid: { display: false, drawTicks: false },
        border: { display: false }
      },
      yRsi: { type: 'linear', axis: 'y', position: 'right', display: false, min: -11.4, max: 598.4 }
    }
  },
  plugins: [overlay]
});
</script>
</body>
</html>
